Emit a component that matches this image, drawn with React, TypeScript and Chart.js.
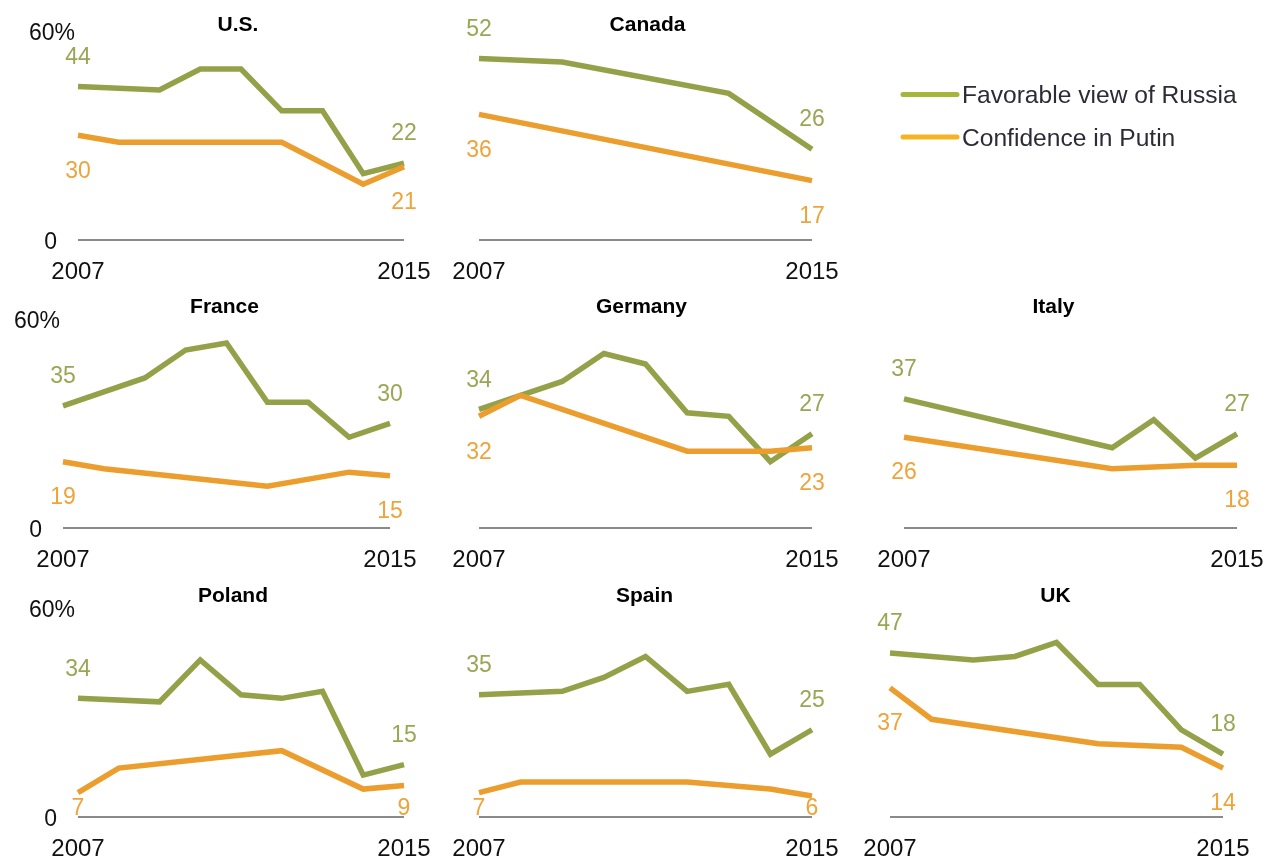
import React, { useEffect, useRef } from 'react';
import { Chart, registerables } from 'chart.js';

Chart.register(...registerables);

// ---------- data ----------
const years = ['2007', '2008', '2009', '2010', '2011', '2012', '2013', '2014', '2015'];
const seriesNames = ['Favorable view of Russia', 'Confidence in Putin'];
const countries = ['U.S.', 'Canada', 'France', 'Germany', 'Italy', 'Poland', 'Spain', 'UK'];
const yTickValues = [0, 60];
const yTickLabels = ['0', '60%'];
const yMax = 60;

const usFavorable = [44, null, 43, 49, 49, 37, 37, 19, 22];
const usConfidence = [30, 28, null, null, null, 28, null, 16, 21];

const canadaFavorable = [52, null, 51, null, null, null, 42, null, 26];
const canadaConfidence = [36, null, null, null, null, null, null, null, 17];

const franceFavorable = [35, 39, 43, 51, 53, 36, 36, 26, 30];
const franceConfidence = [19, 17, null, null, null, 12, null, 16, 15];

const germanyFavorable = [34, 38, 42, 50, 47, 33, 32, 19, 27];
const germanyConfidence = [32, 38, null, null, null, 22, 22, 22, 23];

const italyFavorable = [37, null, null, null, null, 23, 31, 20, 27];
const italyConfidence = [26, null, null, null, null, 17, null, 18, 18];

const polandFavorable = [34, null, 33, 45, 35, 34, 36, 12, 15];
const polandConfidence = [7, 14, null, null, null, 19, null, 8, 9];

const spainFavorable = [35, null, 36, 40, 46, 36, 38, 18, 25];
const spainConfidence = [7, 10, null, null, null, 10, null, 8, 6];

const ukFavorable = [47, null, 45, 46, 50, 38, 38, 25, 18];
const ukConfidence = [37, 28, null, null, null, 21, null, 20, 14];

const favorableByCountry = [usFavorable, canadaFavorable, franceFavorable, germanyFavorable, italyFavorable, polandFavorable, spainFavorable, ukFavorable];
const confidenceByCountry = [usConfidence, canadaConfidence, franceConfidence, germanyConfidence, italyConfidence, polandConfidence, spainConfidence, ukConfidence];

// ---------- layout & style ----------
const W = 1274;
const H = 857;
const PX_PER_UNIT = 3.49;
const panelLayout = [
  { left: 78, right: 404, base: 240, titleY: 23, titleDx: -3, showY: true, legend: true },
  { left: 479, right: 812, base: 240, titleY: 23, titleDx: 2, showY: false },
  { left: 63, right: 390, base: 528, titleY: 305, titleDx: -2, showY: true },
  { left: 479, right: 812, base: 528, titleY: 305, titleDx: -4, showY: false },
  { left: 904, right: 1237, base: 528, titleY: 305, titleDx: -17, showY: false },
  { left: 78, right: 404, base: 817, titleY: 594, titleDx: -8, showY: true },
  { left: 479, right: 812, base: 817, titleY: 594, titleDx: -1, showY: false },
  { left: 890, right: 1223, base: 817, titleY: 594, titleDx: -1, showY: false },
];

const GREEN = '#95a149';
const ORANGE = '#eb9e2e';
const GREEN_TEXT = '#9ba654';
const ORANGE_TEXT = '#eea43a';
const LEGEND_GREEN = '#a6b63a';
const LEGEND_ORANGE = '#f6b322';
const FONT = '"Liberation Sans", Arial, sans-serif';

function drawText(ctx: CanvasRenderingContext2D, text: string, x: number, capCenterY: number, size: number, color: string, align: CanvasTextAlign, bold = false) {
  ctx.save();
  ctx.font = `${bold ? 'bold ' : ''}${size}px ${FONT}`;
  ctx.fillStyle = color;
  ctx.textAlign = align;
  ctx.textBaseline = 'alphabetic';
  ctx.fillText(text, x, capCenterY + size * 0.358);
  ctx.restore();
}

function makePlugin(idx: number) {
  const lay = panelLayout[idx];
  return {
    id: 'panelDecor' + idx,
    beforeDatasetsDraw(chart: any) {
      const ctx = chart.ctx as CanvasRenderingContext2D;
      const x = chart.scales.x;
      const y = chart.scales.y;
      const y0 = y.getPixelForValue(0);
      ctx.save();
      ctx.strokeStyle = '#8a8a8a';
      ctx.lineWidth = 2;
      ctx.beginPath();
      ctx.moveTo(x.getPixelForValue(0), y0);
      ctx.lineTo(x.getPixelForValue(years.length - 1), y0);
      ctx.stroke();
      ctx.restore();
    },
    afterDraw(chart: any) {
      const ctx = chart.ctx as CanvasRenderingContext2D;
      const x = chart.scales.x;
      const y = chart.scales.y;
      const ca = chart.chartArea;
      const y0 = y.getPixelForValue(0);
      // title
      drawText(ctx, countries[idx], (ca.left + ca.right) / 2 + lay.titleDx, lay.titleY, 21, '#000', 'center', true);
      // x labels
      const last = years.length - 1;
      drawText(ctx, years[0], x.getPixelForValue(0), y0 + 30, 24, '#111', 'center');
      drawText(ctx, years[last], x.getPixelForValue(last), y0 + 30, 24, '#111', 'center');
      // y labels
      if (lay.showY) {
        yTickValues.forEach((v, i) => {
          const label = yTickLabels[i];
          const xr = v === 0 ? ca.left - 21 : ca.left - 3;
          drawText(ctx, label, xr, y.getPixelForValue(v) + 1, 23, '#111', 'right');
        });
      }
      // value labels on first and last points
      const fav = favorableByCountry[idx];
      const conf = confidenceByCountry[idx];
      [0, last].forEach((i) => {
        const px = x.getPixelForValue(i);
        const gy = y.getPixelForValue(fav[i] as number);
        drawText(ctx, String(fav[i]), px, gy - 31, 23, GREEN_TEXT, 'center');
        const oy = y.getPixelForValue(conf[i] as number);
        drawText(ctx, String(conf[i]), px, Math.min(oy + 34, y0 - 10), 23, ORANGE_TEXT, 'center');
      });
      // legend
      if (lay.legend) {
        const legendColors = [LEGEND_GREEN, LEGEND_ORANGE];
        seriesNames.forEach((name, i) => {
          const ly = 94.5 + i * 42.5;
          ctx.save();
          ctx.strokeStyle = legendColors[i];
          ctx.lineWidth = 5;
          ctx.lineCap = 'round';
          ctx.beginPath();
          ctx.moveTo(903, ly);
          ctx.lineTo(957, ly);
          ctx.stroke();
          ctx.restore();
          drawText(ctx, name, 962, ly, 24.6, '#2e2a36', 'left');
        });
      }
    },
  };
}

function Panel({ idx }: { idx: number }) {
  const ref = useRef<HTMLCanvasElement | null>(null);
  useEffect(() => {
    const lay = panelLayout[idx];
    const top = lay.base - yMax * PX_PER_UNIT;
    const chart = new Chart(ref.current as HTMLCanvasElement, {
      type: 'line',
      data: {
        labels: years,
        datasets: [
          {
            label: seriesNames[0],
            data: favorableByCountry[idx],
            borderColor: GREEN,
            borderWidth: 5.5,
            pointRadius: 0,
            tension: 0,
            spanGaps: true,
            clip: false as any,
            borderJoinStyle: 'miter',
            borderCapStyle: 'butt',
            order: 2,
          },
          {
            label: seriesNames[1],
            data: confidenceByCountry[idx],
            borderColor: ORANGE,
            borderWidth: 5.5,
            pointRadius: 0,
            tension: 0,
            spanGaps: true,
            clip: false as any,
            borderJoinStyle: 'miter',
            borderCapStyle: 'butt',
            order: 1,
          },
        ],
      },
      options: {
        responsive: false,
        animation: false,
        devicePixelRatio: 1,
        events: [],
        layout: {
          padding: { left: lay.left, right: W - lay.right, top: top, bottom: H - lay.base },
        },
        scales: {
          x: { type: 'category', display: false, offset: false },
          y: { type: 'linear', display: false, min: 0, max: yMax },
        },
        plugins: { legend: { display: false }, tooltip: { enabled: false }, title: { display: false } },
      },
      plugins: [makePlugin(idx)],
    } as any);
    return () => chart.destroy();
  }, [idx]);
  return <canvas ref={ref} width={W} height={H} style={{ position: 'absolute', left: 0, top: 0 }} />;
}

export default function App() {
  return (
    <div style={{ position: 'absolute', left: 0, top: 0, width: W, height: H, background: '#fff', overflow: 'hidden' }}>
      {countries.map((_, i) => (
        <Panel key={i} idx={i} />
      ))}
    </div>
  );
}
